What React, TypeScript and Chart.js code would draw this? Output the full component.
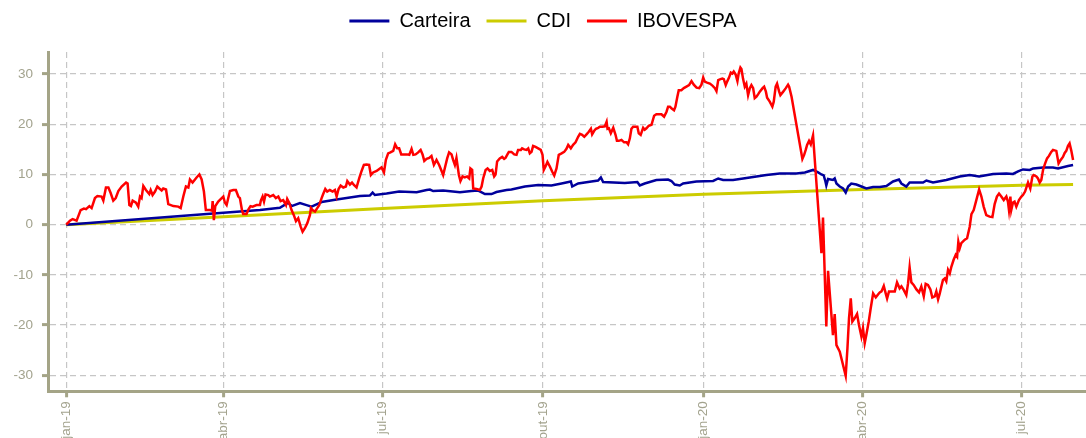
import React, { useEffect, useRef } from 'react';
import { Chart, registerables } from 'chart.js';

Chart.register(...registerables);

// x values are calendar days counted from 1 Jan 2019
const xTickDays = [0, 90, 181, 273, 365, 456, 547];
const xTickLabels = ['jan-19', 'abr-19', 'jul-19', 'out-19', 'jan-20', 'abr-20', 'jul-20'];
const yTicks = [-30, -20, -10, 0, 10, 20, 30];
const seriesLabels = ['Carteira', 'CDI', 'IBOVESPA'];

const carteiraDays = [0, 30, 60, 80.4, 90, 110.9, 122.3, 127.1, 129.0, 133.8, 137.6, 140.4, 143.3, 146.2, 154.8, 168.1, 173.8, 175.4, 176.7, 183.4, 190.6, 200.6, 206.3, 208.2, 210.1, 215.8, 225.4, 232.0, 235.9, 239.7, 243.5, 246.3, 252.1, 254.9, 262.6, 270.2, 277.8, 283.6, 288.9, 289.7, 293.1, 300.7, 304.5, 306.1, 307.4, 319.8, 327.0, 328.4, 331.2, 337.9, 344.6, 346.5, 348.4, 351.3, 353.2, 360.8, 370.4, 373.3, 376.1, 381.8, 387.6, 395.2, 400.9, 408.6, 418.1, 422.9, 427.6, 430.5, 432.4, 433.7, 434.7, 435.2, 436.2, 439.0, 440.0, 441.0, 442.9, 444.8, 446.3, 447.7, 449.5, 452.4, 455.3, 458.1, 462.0, 465.8, 469.6, 473.4, 476.8, 478.2, 481.0, 482.9, 490.6, 492.5, 496.3, 503.9, 511.6, 517.3, 522.7, 530.7, 538.3, 542.1, 545.0, 547.8, 551.7, 553.6, 559.3, 565.0, 567.9, 573.6, 576.5];
const carteiraValues = [0, 0.8, 1.6, 2.1, 2.35, 2.9, 3.35, 4.4, 3.7, 4.3, 3.9, 3.6, 4.05, 4.5, 5.0, 5.7, 5.8, 6.4, 5.9, 6.2, 6.6, 6.45, 6.9, 7.0, 6.7, 6.8, 6.45, 6.7, 6.8, 6.1, 6.1, 6.5, 6.9, 7.0, 7.6, 7.9, 7.8, 8.2, 8.6, 7.6, 8.2, 8.6, 8.8, 9.4, 8.5, 8.3, 8.5, 7.8, 8.2, 8.9, 9.0, 8.7, 8.0, 7.8, 8.2, 8.6, 8.7, 9.2, 8.9, 8.9, 9.2, 9.6, 9.9, 10.2, 10.2, 10.4, 10.9, 10.4, 10.0, 9.8, 8.6, 7.8, 9.1, 8.9, 9.2, 8.2, 7.6, 7.2, 6.4, 7.6, 8.2, 8.0, 7.6, 7.2, 7.5, 7.5, 7.7, 8.6, 9.0, 8.2, 7.6, 8.4, 8.4, 8.8, 8.4, 8.9, 9.6, 9.9, 9.6, 10.1, 10.2, 10.1, 10.6, 11.0, 10.9, 11.2, 11.4, 11.4, 11.2, 11.7, 11.9];

const cdiDays = [0, 90, 181, 273, 365, 456, 547, 576.5];
const cdiValues = [0, 1.6, 3.2, 4.75, 6.05, 7.0, 7.85, 8.0];

const iboDays = [0, 2.1, 3.6, 5.9, 8.2, 10.1, 11.3, 13.2, 14.5, 16.4, 17.8, 20.2, 21.2, 22.7, 24.1, 25.4, 26.9, 28.3, 29.8, 31.7, 34.2, 35.1, 36.1, 37.0, 38.0, 39.9, 41.2, 42.2, 43.1, 44.1, 45.6, 47.5, 48.3, 49.4, 50.8, 52.1, 53.3, 54.6, 55.5, 57.1, 58.4, 61.3, 64.1, 65.5, 67.0, 68.5, 69.9, 70.8, 72.3, 73.7, 74.6, 76.2, 77.5, 78.8, 79.9, 82.2, 83.4, 83.8, 84.5, 85.3, 87.0, 88.4, 89.9, 90.8, 91.8, 93.7, 95.6, 97.1, 98.5, 99.4, 100.6, 101.3, 103.2, 104.4, 105.5, 106.7, 108.9, 110.9, 111.4, 112.4, 113.2, 114.1, 115.7, 116.6,
  118.5, 120.0, 121.4, 122.7, 124.2, 125.8, 126.5, 127.7, 129.0, 130.3, 131.5, 132.8, 134.2, 135.3, 136.6, 138.0, 139.5, 140.1, 141.0, 142.4, 143.7, 144.8, 146.2, 147.1, 148.3, 149.4, 150.9, 152.5, 153.8, 154.8, 155.9, 157.1, 158.6, 160.1, 160.9, 162.4, 163.6, 164.7, 166.2, 167.7, 169.1, 170.4, 171.9, 173.4, 174.4, 175.7, 177.7, 179.2, 180.5, 181.9, 183.0, 184.3, 185.6, 187.2, 188.3, 189.5, 190.6, 191.8, 193.5, 195.2, 196.4, 197.7, 198.7, 200.0, 201.5, 202.9, 204.0, 205.0, 206.3, 207.8, 209.1, 210.5, 212.0, 213.5, 214.9, 215.8, 216.9, 218.1, 219.2, 220.6, 221.5, 222.5, 223.4, 224.8, 225.7, 226.9, 228.2, 229.5, 230.7, 231.4, 232.4,
  233.0, 234.9, 236.8, 237.8, 238.7, 240.1, 241.2, 242.5, 243.9, 245.0, 245.8, 246.7, 248.2, 249.6, 250.7, 251.5, 252.6, 253.4, 254.9, 256.5, 257.8, 258.7, 260.3, 261.0, 262.2, 263.5, 264.5, 265.4, 266.4, 267.3, 268.7, 270.2, 271.7, 272.7, 273.4, 274.4, 275.5, 276.9, 278.2, 279.4, 280.7, 282.0, 283.6, 285.1, 286.4, 287.4, 288.9, 290.2, 291.6, 293.1, 294.1, 295.4, 296.6, 297.9, 299.2, 300.4, 301.1, 302.3, 303.3, 304.6, 305.5, 306.9, 308.4, 309.4, 309.9, 310.7, 311.8, 313.2, 314.5, 315.3, 316.4, 317.9, 319.4, 320.8, 321.7, 322.7, 323.6, 324.6, 325.9, 327.0, 327.8, 328.9, 330.3, 331.2, 332.2, 333.5, 335.1, 336.6, 337.9, 339.3, 340.8, 342.3, 343.7, 344.6, 345.6, 346.5, 348.0, 348.8, 349.9, 350.7,
  352.2, 353.6, 355.1, 356.6, 358.0, 359.3, 360.9, 362.4, 363.7, 364.7, 365.6, 366.9, 368.5, 370.0, 371.4, 372.3, 373.3, 374.6, 375.7, 376.5, 377.6, 378.4, 379.5, 380.5, 381.4, 382.2, 383.3, 384.3, 385.0, 386.0, 386.6, 387.5, 388.5, 389.4, 390.4, 391.4, 392.3, 393.3, 394.2, 395.2, 396.2, 397.1, 398.7, 399.6, 400.6, 401.3, 402.8, 404.3, 405.1, 406.2, 407.0, 408.2, 408.9, 410.5, 412.0, 413.3, 413.9, 415.3, 421.5, 422.5, 423.4, 424.2, 425.3, 426.3, 427.6, 432.4, 433.3, 435.2, 436.2, 439.0, 440.0, 441.0, 442.9, 446.3, 447.3, 448.2, 449.2, 450.1, 451.5, 452.8, 453.9, 455.3, 456.2, 457.2, 458.1, 459.5, 460.6, 462.0, 463.5, 464.8, 465.8,
  466.8, 468.1, 469.2, 470.0, 471.1, 472.5, 474.4, 475.7, 477.2, 478.2, 479.5, 481.0, 482.0, 482.9, 483.9, 485.2, 486.8, 488.3, 489.6, 491.0, 492.1, 493.4, 494.8, 495.9, 497.3, 498.2, 499.2, 500.1, 501.1, 502.0, 503.0, 503.9, 504.9, 505.9, 506.8, 508.1, 509.3, 510.1, 510.8, 511.6, 512.5, 514.5, 515.8, 517.3, 518.3, 519.6, 521.1, 522.7, 524.0, 525.3, 526.8, 528.7, 530.3, 531.6, 532.9, 534.1, 535.4, 536.8, 538.3, 539.2, 539.8, 540.6, 541.1, 542.1, 543.0, 544.0, 545.5, 546.9, 547.8, 549.0, 550.7, 552.0, 553.2, 553.9, 555.5, 556.4, 557.4, 558.3, 559.3, 560.4, 561.6, 562.7, 564.0, 565.0, 566.9, 568.2, 569.4, 570.7, 571.7, 572.6, 573.6, 574.5, 575.5, 576.5];
const iboValues = [0, 0.8, 1.1, 0.8, 2.9, 3.2, 3.1, 3.7, 3.3, 5.3, 5.7, 5.6, 4.8, 7.4, 7.4, 6.3, 4.8, 5.3, 6.7, 7.6, 8.4, 8.2, 3.9, 3.7, 4.8, 4.4, 3.6, 5.6, 5.3, 7.7, 6.9, 6.1, 6.9, 5.9, 6.6, 7.6, 7.2, 6.8, 7.2, 7.0, 4.1, 3.7, 3.6, 3.3, 5.6, 7.6, 7.4, 9.0, 8.4, 9.0, 9.4, 10.0, 9.0, 6.6, 2.9, 2.9, 2.8, 4.7, 0.9, 3.7, 4.6, 5.1, 5.6, 4.4, 3.9, 6.7, 6.9, 6.9, 5.6, 5.3, 2.9, 2.1, 2.1, 3.1, 3.7, 3.6, 3.9, 3.9, 4.8, 5.6, 4.6, 6.0, 5.9, 5.6,
  5.9, 5.3, 5.6, 4.7, 4.9, 3.9, 5.1, 4.3, 2.9, 1.9, 0.7, 1.3, -0.4, -1.4, -0.7, 0.3, 1.9, 3.3, 2.9, 2.6, 3.3, 3.9, 5.3, 6.1, 7.1, 6.6, 6.9, 6.6, 6.9, 5.6, 7.1, 7.8, 7.4, 7.6, 8.7, 8.0, 8.4, 7.9, 7.4, 9.2, 10.7, 11.9, 12.0, 11.9, 9.9, 10.4, 10.7, 11.1, 11.4, 10.4, 12.9, 14.2, 14.4, 14.7, 16.0, 15.2, 15.2, 14.0, 14.0, 14.0, 13.9, 15.1, 13.9, 14.0, 14.4, 14.9, 14.0, 12.7, 13.1, 13.3, 13.7, 11.9, 12.9, 11.9, 10.7, 9.9, 11.5, 13.2, 14.4, 14.0, 12.9, 11.9, 13.3, 9.9, 8.7, 9.6, 9.4, 9.6, 9.2, 11.2, 10.9,
  7.2, 7.1, 6.9, 7.6, 9.2, 10.9, 11.2, 10.7, 10.9, 9.6, 10.0, 12.6, 13.2, 13.5, 13.1, 13.3, 14.0, 14.5, 14.5, 14.0, 13.9, 14.9, 14.9, 15.2, 15.0, 14.9, 15.2, 14.2, 14.5, 15.7, 15.5, 15.2, 14.9, 13.9, 10.9, 11.6, 12.5, 11.6, 10.6, 9.8, 11.2, 13.9, 14.2, 14.5, 15.1, 15.9, 15.2, 15.9, 16.4, 17.5, 18.1, 17.9, 17.5, 18.0, 18.5, 19.1, 18.0, 18.7, 19.1, 19.3, 19.5, 19.5, 19.6, 20.5, 19.1, 19.2, 18.2, 19.3, 17.9, 16.7, 16.7, 16.9, 16.4, 16.4, 16.0, 17.2, 19.1, 19.5, 19.5, 19.5, 18.2, 17.9, 19.3, 18.9, 19.2, 19.7, 19.9, 21.7, 22.0, 22.0, 22.0, 21.5, 22.5, 23.5, 23.5, 23.2, 22.8, 23.5, 25.5, 26.8,
  26.8, 27.2, 27.5, 27.8, 28.6, 27.9, 27.3, 27.2, 27.9, 29.3, 28.5, 28.3, 28.1, 27.7, 27.2, 26.6, 28.8, 29.0, 29.1, 29.0, 27.8, 28.5, 29.3, 30.3, 30.1, 30.5, 29.9, 28.6, 30.1, 31.3, 31.0, 29.1, 27.5, 28.1, 25.8, 27.2, 27.8, 27.2, 25.2, 25.5, 26.0, 26.5, 27.2, 27.5, 26.5, 25.3, 24.5, 23.5, 24.5, 27.5, 28.1, 26.5, 25.8, 26.5, 27.2, 27.9, 27.5, 25.5, 13.1, 13.9, 14.9, 15.9, 16.7, 16.0, 17.8, -5.7, 1.4, -20.3, -9.2, -22.0, -17.8, -24.0, -25.3, -30.1, -24.6, -18.6, -14.7, -19.3, -18.6, -17.8, -20.0, -22.3, -20.6, -23.6, -22.0, -19.3, -16.7, -13.7, -14.5, -13.9, -13.5,
  -13.3, -12.2, -13.7, -14.7, -13.3, -13.3, -13.3, -11.5, -12.7, -12.3, -13.0, -14.0, -11.7, -8.5, -11.5, -12.0, -12.9, -13.5, -12.3, -14.3, -11.8, -12.0, -12.9, -14.5, -14.3, -13.3, -14.9, -13.8, -12.3, -11.0, -10.7, -11.3, -9.0, -9.7, -8.4, -7.0, -6.0, -6.4, -3.4, -4.7, -3.7, -3.0, -2.7, -0.4, 2.1, 2.9, 4.9, 7.0, 5.6, 3.6, 1.9, 1.6, 1.5, 4.1, 5.6, 6.2, 5.6, 4.9, 5.6, 4.6, 2.9, 5.6, 2.9, 4.4, 4.6, 3.6, 4.9, 5.6, 5.9, 6.6, 8.4, 7.2, 9.6, 9.9, 9.6, 9.2, 8.4, 8.9, 10.9, 12.1, 13.2, 13.7, 14.5, 14.9, 14.7, 12.2, 12.9, 13.5, 14.3, 14.7, 15.7, 16.2, 14.7, 12.9];

const FONT = 'Arial, "Liberation Sans", Helvetica, sans-serif';
const AXIS_COLOR = '#a4a487';
const LABEL_COLOR = '#a3a38e';
const GRID_COLOR = '#c6c6c6';

const toPoints = (xs: number[], ys: number[]) => xs.map((x, i) => ({ x, y: ys[i] }));

const legendHeightPlugin = {
  id: 'legendHeightFix',
  beforeInit(chart: any) {
    const legend = chart.legend;
    if (legend && !legend.__patched) {
      const orig = legend.fit;
      legend.fit = function () {
        orig.call(this);
        this.height = 57;
      };
      legend.__patched = true;
    }
  },
};

export default function App() {
  const canvasRef = useRef<HTMLCanvasElement | null>(null);

  useEffect(() => {
    if (!canvasRef.current) return;
    Chart.defaults.font.family = FONT;
    const chart = new Chart(canvasRef.current, {
      type: 'line',
      data: {
        datasets: [
          {
            label: seriesLabels[0],
            data: toPoints(carteiraDays, carteiraValues),
            borderColor: '#00009c',
            backgroundColor: '#00009c',
            borderWidth: 2.5,
            pointRadius: 0,
            tension: 0,
            order: 1,
          },
          {
            label: seriesLabels[1],
            data: toPoints(cdiDays, cdiValues),
            borderColor: '#cccc00',
            backgroundColor: '#cccc00',
            borderWidth: 3,
            pointRadius: 0,
            tension: 0,
            order: 2,
          },
          {
            label: seriesLabels[2],
            data: toPoints(iboDays, iboValues),
            borderColor: '#ff0000',
            backgroundColor: '#ff0000',
            borderWidth: 2.5,
            pointRadius: 0,
            tension: 0,
            order: 0,
          },
        ],
      },
      options: {
        animation: false,
        responsive: false,
        maintainAspectRatio: false,
        layout: { padding: { top: -5, left: 0, right: 0, bottom: 0 } },
        plugins: {
          tooltip: { enabled: false },
          legend: {
            display: true,
            position: 'top',
            align: 'center',
            labels: {
              usePointStyle: true,
              pointStyle: 'line',
              pointStyleWidth: 40,
              padding: 16,
              color: '#000000',
              font: { family: FONT, size: 20 },
              sort: (a: any, b: any) => a.datasetIndex - b.datasetIndex,
              generateLabels: (c: any) =>
                (Chart.defaults.plugins.legend.labels as any)
                  .generateLabels(c)
                  .map((l: any) => ({ ...l, lineWidth: 3 })),
            },
          },
        },
        scales: {
          x: {
            type: 'linear',
            min: -10.48,
            max: 583.9,
            afterBuildTicks: (axis: any) => {
              axis.ticks = xTickDays.map((v) => ({ value: v }));
            },
            afterFit: (axis: any) => {
              axis.height = 46.7;
            },
            ticks: {
              autoSkip: false,
              minRotation: 90,
              maxRotation: 90,
              padding: 4,
              color: LABEL_COLOR,
              font: { family: FONT, size: 13.5 },
              callback: (_v: any, i: number) => xTickLabels[i],
            },
            grid: {
              color: GRID_COLOR,
              lineWidth: 1.2,
              drawTicks: true,
              tickLength: 6,
              tickWidth: 3,
              tickColor: AXIS_COLOR,
              tickBorderDash: [],
            },
            border: { display: true, color: AXIS_COLOR, width: 3, dash: [6, 4] },
          },
          y: {
            type: 'linear',
            min: -33.2,
            max: 34.4,
            afterBuildTicks: (axis: any) => {
              axis.ticks = yTicks.map((v) => ({ value: v }));
            },
            afterFit: (axis: any) => {
              axis.width = 48;
            },
            ticks: {
              padding: 9,
              color: LABEL_COLOR,
              font: { family: FONT, size: 13.5 },
              callback: (v: any) => String(v),
            },
            grid: {
              color: GRID_COLOR,
              lineWidth: 1.2,
              drawTicks: true,
              tickLength: 6,
              tickWidth: 3,
              tickColor: AXIS_COLOR,
              tickBorderDash: [],
            },
            border: { display: true, color: AXIS_COLOR, width: 3, dash: [6, 4] },
          },
        },
      },
      plugins: [legendHeightPlugin],
    } as any);
    return () => chart.destroy();
  }, []);

  return (
    <canvas
      ref={canvasRef}
      width={1086}
      height={438}
      style={{ position: 'absolute', left: 0, top: 0, width: 1086, height: 438 }}
    />
  );
}
